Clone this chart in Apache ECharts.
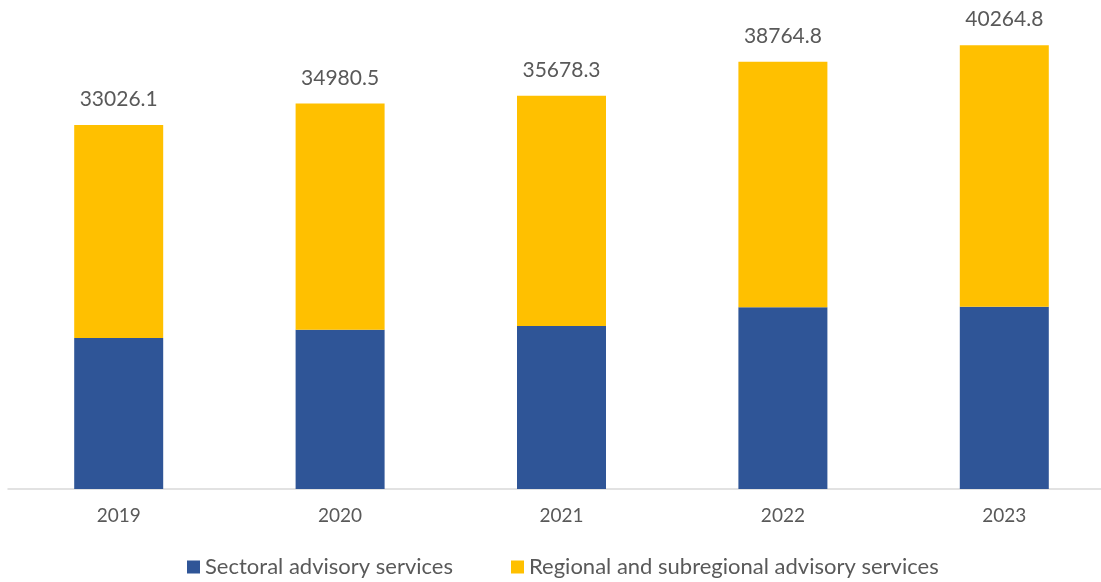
<!DOCTYPE html>
<html>
<head>
<meta charset="utf-8">
<script src="https://cdn.jsdelivr.net/npm/echarts@6/dist/echarts.min.js"></script>
<style>
  html, body { margin: 0; padding: 0; background: #fff; overflow: hidden; }
  /* the plot area runs a little past the right edge of the window */
  #chart { width: 1115px; height: 582px; }
</style>
</head>
<body>
<div id="chart"></div>
<script>
// Advisory services by year (stacked), with the annual total shown above each bar
const years = ['2019', '2020', '2021', '2022', '2023'];
const totals = [33026.1, 34980.5, 35678.3, 38764.8, 40264.8];
const sectoral = [13700, 14450, 14790, 16480, 16540];
const regional = [19326.1, 20530.5, 20888.3, 22284.8, 23724.8];

const FONT = 'Lato, "Open Sans", sans-serif';
const TEXT = '#595959';

const chart = echarts.init(document.getElementById('chart'), null, { renderer: 'canvas' });

chart.setOption({
  animation: false,
  textStyle: { fontFamily: FONT },
  grid: { left: 8, right: 0, top: 4, bottom: 93, containLabel: false },
  legend: {
    left: 187,
    top: 556,
    padding: 0,
    itemWidth: 13,
    itemHeight: 13,
    itemGap: 58,
    icon: 'rect',
    textStyle: { color: TEXT, fontSize: 22, fontFamily: FONT },
    data: ['Sectoral advisory services', 'Regional and subregional advisory services']
  },
  xAxis: {
    type: 'category',
    data: years,
    axisLine: { lineStyle: { color: '#d9d9d9', width: 1.5 } },
    axisTick: { show: false },
    axisLabel: { color: TEXT, fontSize: 19, margin: 17, fontFamily: FONT }
  },
  yAxis: {
    type: 'value',
    min: 0,
    max: 44000,
    show: false,
    splitLine: { show: false }
  },
  series: [
    {
      name: 'Sectoral advisory services',
      type: 'bar',
      stack: 'total',
      barWidth: 89,
      itemStyle: { color: '#2F5597' },
      data: sectoral
    },
    {
      name: 'Regional and subregional advisory services',
      type: 'bar',
      stack: 'total',
      barWidth: 89,
      itemStyle: { color: '#FFC000' },
      label: {
        show: true,
        position: 'top',
        distance: 15,
        color: TEXT,
        fontSize: 21,
        fontFamily: FONT,
        formatter: p => totals[p.dataIndex].toFixed(1)
      },
      data: regional
    }
  ]
});
</script>
</body>
</html>
